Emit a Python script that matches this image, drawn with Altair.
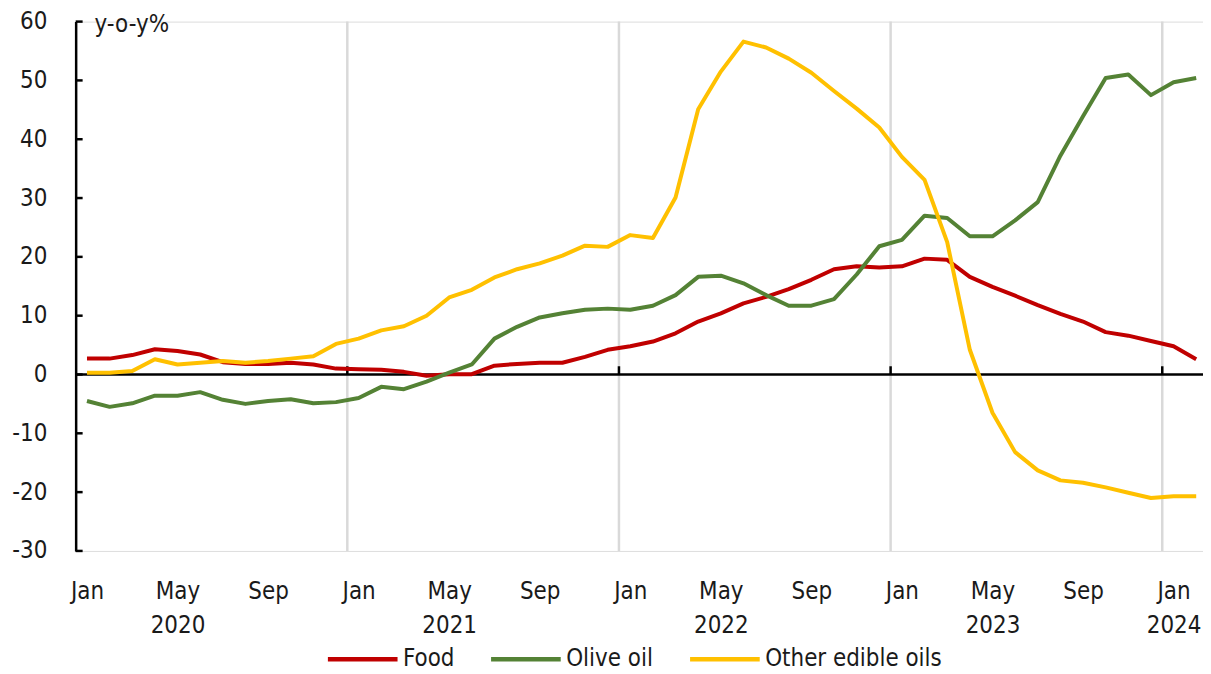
import altair as alt
import pandas as pd

# ---- data ----
months = [f"{y}-{m:02d}" for y in range(2020, 2025) for m in range(1, 13)][:50]
food = [2.7, 2.7, 3.3, 4.3, 4.0, 3.4, 2.1, 1.8, 1.8, 2.0, 1.7, 1.0,
        0.9, 0.8, 0.45, -0.2, 0.05, 0.05, 1.5, 1.8, 2.0, 2.0, 3.0, 4.2,
        4.8, 5.6, 7.0, 9.0, 10.4, 12.1, 13.2, 14.5, 16.1, 17.9, 18.4, 18.2,
        18.4, 19.7, 19.5, 16.6, 14.9, 13.4, 11.8, 10.3, 9.0, 7.2, 6.6, 5.7,
        4.8, 2.6]
olive = [-4.5, -5.5, -4.9, -3.6, -3.6, -3.0, -4.3, -5.0, -4.5, -4.2, -4.9, -4.7,
         -4.0, -2.1, -2.5, -1.2, 0.3, 1.7, 6.1, 8.1, 9.7, 10.4, 11.0, 11.2,
         11.0, 11.7, 13.5, 16.6, 16.8, 15.5, 13.5, 11.7, 11.7, 12.8, 17.0, 21.8,
         22.9, 27.0, 26.6, 23.5, 23.5, 26.2, 29.3, 37.2, 43.9, 50.4, 51.0, 47.5,
         49.7, 50.4]
other = [0.3, 0.3, 0.6, 2.6, 1.7, 2.0, 2.3, 2.0, 2.3, 2.7, 3.1, 5.2,
         6.1, 7.5, 8.2, 10.0, 13.1, 14.4, 16.5, 17.9, 18.9, 20.2, 21.9, 21.7,
         23.7, 23.2, 30.1, 45.1, 51.5, 56.6, 55.6, 53.7, 51.3, 48.2, 45.2, 42.0,
         37.0, 33.1, 22.5, 4.2, -6.5, -13.2, -16.3, -18.0, -18.4, -19.2, -20.1, -21.0,
         -20.7, -20.7]
series_names = ["Food", "Olive oil", "Other edible oils"]
series_colors = ["#C00000", "#548235", "#FFC000"]
year_boundaries = [11.5, 23.5, 35.5, 47.5]
y_ticks = [-30, -20, -10, 0, 10, 20, 30, 40, 50, 60]
x_label_ticks = list(range(0, 50, 4))
unit_label = ["y-o-y%"]

FONT = "DejaVu Sans Condensed"
FS = 24
TXT = "#1a1a1a"
W, H = 1133, 532

rows = []
for name, vals in zip(series_names, [food, olive, other]):
    for i, v in enumerate(vals):
        rows.append({"i": i, "month": months[i], "series": name, "value": v})
df = pd.DataFrame(rows)

label_expr = (
    "[datum.value % 12 == 0 ? 'Jan' : (datum.value % 12 == 4 ? 'May' : 'Sep'), "
    "datum.value % 12 == 4 ? '' + (2020 + floor(datum.value / 12)) : "
    "(datum.value == 48 ? '2024' : '')]"
)
xaxis = alt.Axis(values=x_label_ticks, labelExpr=label_expr, title=None, domain=False,
                 ticks=False, grid=False, labelFontSize=FS, labelColor=TXT, labelFont=FONT,
                 labelPadding=29, labelLineHeight=34, labelFlush=False, labelOverlap=False,
                 labelBaseline="top")
yaxis = alt.Axis(values=y_ticks, title=None, domain=True, domainColor="black", domainWidth=2.5,
                 ticks=False, grid=False, labelFontSize=FS, labelColor=TXT, labelFont=FONT,
                 labelPadding=29, labelExpr="'' + datum.value", labelFlush=False,
                 labelOverlap=False)
xscale = alt.Scale(domain=[-0.5, 49.3], nice=False, zero=False)
yscale = alt.Scale(domain=[-30, 60], nice=False, zero=False)
xenc = alt.X("i:Q", scale=xscale, axis=xaxis)
yenc = alt.Y("value:Q", scale=yscale, axis=yaxis)

grid = alt.Chart(pd.DataFrame({"i": year_boundaries})).mark_rule(
    color="#D9D9D9", strokeWidth=2.5).encode(x=xenc, y=alt.value(0), y2=alt.value(H))

zero = alt.Chart(pd.DataFrame({"value": [0]})).mark_rule(
    color="black", strokeWidth=2.5).encode(y=yenc)

year_ticks = alt.Chart(pd.DataFrame({"i": year_boundaries, "value": [0] * 4, "v2": [1.4] * 4})).mark_rule(
    color="black", strokeWidth=2.5).encode(x=xenc, y=yenc, y2="v2:Q")

left_ticks = alt.Chart(pd.DataFrame({"value": y_ticks})).mark_rule(
    color="black", strokeWidth=2.5).encode(y=yenc, x=alt.value(0), x2=alt.value(7))

lines = alt.Chart(df).mark_line(strokeWidth=4, strokeJoin="round").encode(
    x=xenc, y=yenc,
    color=alt.Color("series:N", scale=alt.Scale(domain=series_names, range=series_colors),
                    legend=alt.Legend(title=None, orient="none", legendX=251, legendY=603,
                                      direction="horizontal", symbolType="stroke",
                                      symbolSize=4900, symbolStrokeWidth=4.5,
                                      labelFontSize=FS, labelFont=FONT, labelColor=TXT,
                                      labelOffset=3, columnPadding=27, labelLimit=400)),
    detail="series:N",
)

unit = alt.Chart(pd.DataFrame({"t": unit_label})).mark_text(
    align="left", baseline="middle", fontSize=FS, font=FONT, color=TXT).encode(
    text="t:N", x=alt.value(19), y=alt.value(3))

chart = alt.layer(grid, zero, year_ticks, lines, left_ticks, unit).properties(
    width=W, height=H,
    autosize=alt.AutoSizeParams(type="none"),
    padding={"left": 68, "top": 12, "right": 0, "bottom": 120},
).configure_view(stroke=None).configure(background="white")

chart.save("out.html", embed_options={"renderer": "svg", "actions": False})
